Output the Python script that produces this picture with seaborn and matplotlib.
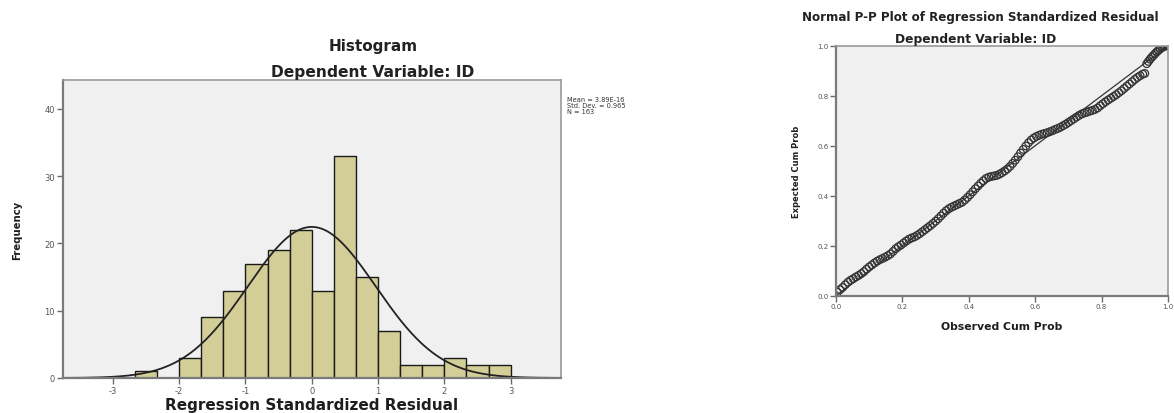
import numpy as np
import pandas as pd
import matplotlib
matplotlib.use("Agg")
import matplotlib.pyplot as plt
import seaborn as sns

# ---------------- data ----------------
# Histogram of regression standardized residuals (bin width 1/3)
bin_start = -8 / 3
bin_width = 1 / 3
counts = [1, 0, 3, 9, 13, 17, 19, 22, 13, 33, 15, 7, 2, 2, 3, 2, 2]
resid_mean = 3.89e-16
resid_sd = 0.965
n_obs = 163
hist_xticks = [-3, -2, -1, 0, 1, 2, 3]
hist_yticks = [0, 10, 20, 30, 40]

# Normal P-P plot points
pp_observed = [
    0.004, 0.012, 0.020, 0.028, 0.036, 0.044, 0.052, 0.060, 0.068, 0.076,
    0.084, 0.092, 0.100, 0.108, 0.116, 0.124, 0.132, 0.140, 0.148, 0.156,
    0.164, 0.172, 0.180, 0.188, 0.196, 0.204, 0.212, 0.220, 0.228, 0.236,
    0.244, 0.252, 0.260, 0.268, 0.276, 0.284, 0.292, 0.300, 0.308, 0.316,
    0.324, 0.332, 0.340, 0.348, 0.356, 0.364, 0.372, 0.380, 0.388, 0.396,
    0.404, 0.412, 0.420, 0.428, 0.436, 0.444, 0.452, 0.460, 0.468, 0.476,
    0.484, 0.492, 0.500, 0.508, 0.516, 0.524, 0.532, 0.540, 0.548, 0.556,
    0.564, 0.572, 0.580, 0.588, 0.596, 0.604, 0.612, 0.620, 0.628, 0.636,
    0.644, 0.652, 0.660, 0.668, 0.676, 0.684, 0.692, 0.700, 0.708, 0.716,
    0.724, 0.732, 0.740, 0.748, 0.756, 0.764, 0.772, 0.780, 0.788, 0.796,
    0.804, 0.812, 0.820, 0.828, 0.836, 0.844, 0.852, 0.860, 0.868, 0.876,
    0.884, 0.892, 0.900, 0.908, 0.916, 0.924, 0.930,
    0.936, 0.941, 0.946, 0.951, 0.956, 0.961, 0.966, 0.971, 0.976, 0.981,
    0.986, 0.991, 0.996, 1.000]
pp_expected = [
    0.014, 0.024, 0.033, 0.044, 0.054, 0.062, 0.068, 0.075, 0.081, 0.088,
    0.096, 0.106, 0.115, 0.123, 0.131, 0.138, 0.144, 0.149, 0.154, 0.160,
    0.167, 0.177, 0.188, 0.196, 0.203, 0.211, 0.219, 0.226, 0.231, 0.235,
    0.241, 0.248, 0.256, 0.264, 0.272, 0.280, 0.289, 0.298, 0.308, 0.319,
    0.330, 0.340, 0.348, 0.354, 0.359, 0.364, 0.369, 0.374, 0.383, 0.393,
    0.404, 0.416, 0.428, 0.439, 0.450, 0.460, 0.469, 0.474, 0.477, 0.479,
    0.481, 0.486, 0.492, 0.499, 0.507, 0.517, 0.529, 0.542, 0.556, 0.571,
    0.585, 0.599, 0.612, 0.623, 0.631, 0.637, 0.642, 0.646, 0.649, 0.652,
    0.656, 0.660, 0.665, 0.669, 0.674, 0.680, 0.686, 0.693, 0.700, 0.707,
    0.714, 0.721, 0.727, 0.731, 0.734, 0.738, 0.741, 0.745, 0.751, 0.760,
    0.768, 0.776, 0.783, 0.790, 0.797, 0.804, 0.812, 0.820, 0.829, 0.838,
    0.847, 0.856, 0.865, 0.873, 0.880, 0.886, 0.889,
    0.928, 0.937, 0.946, 0.954, 0.961, 0.968, 0.975, 0.981, 0.987, 0.992,
    0.996, 0.998, 1.000, 1.000]
diag_line = [0.0, 1.0]
pp_ticks = [0.0, 0.2, 0.4, 0.6, 0.8, 1.0]

# ---------------- style ----------------
sns.set_style("white")
plt.rcParams["font.family"] = ["DejaVu Sans"]
plt.rcParams["axes.unicode_minus"] = False

W, H = 1174, 414
fig = plt.figure(figsize=(W / 100, H / 100), dpi=100)
fig.patch.set_facecolor("white")

bg = "#F0F0F0"
bar_color = "#D3CE97"


def style_axes(ax):
    ax.set_facecolor(bg)
    for side in ["left", "bottom"]:
        ax.spines[side].set_color("#7a7a7a")
        ax.spines[side].set_linewidth(1.6)
    for side in ["top", "right"]:
        ax.spines[side].set_color("#9a9a9a")
        ax.spines[side].set_linewidth(1.2)
        ax.spines[side].set_visible(True)
    ax.tick_params(direction="out", length=4, width=1, color="#6a6a6a",
                   labelsize=5.5, labelcolor="#555555", pad=1.5,
                   bottom=True, left=True)


# ---------------- histogram ----------------
ax1 = fig.add_axes([62.5 / W, 1 - 379 / H, 498.5 / W, 298 / H])
edges = [bin_start + bin_width * i for i in range(len(counts) + 1)]
centers = [e + bin_width / 2 for e in edges[:-1]]
hist_df = pd.DataFrame({"residual": centers, "count": counts})
sns.histplot(data=hist_df, x="residual", weights="count", bins=edges, color=bar_color,
             edgecolor="#1a1a1a", linewidth=1.0, alpha=1.0, ax=ax1)

xlim = (-3.76, 3.76)
xs = np.linspace(xlim[0], xlim[1], 400)
ys = n_obs * bin_width * np.exp(-0.5 * ((xs - resid_mean) / resid_sd) ** 2) / (resid_sd * np.sqrt(2 * np.pi))
sns.lineplot(x=xs, y=ys, color="#222222", linewidth=1.3, ax=ax1)

ax1.set_xlim(*xlim)
ax1.set_ylim(0, 44.3)
ax1.set_xticks(hist_xticks)
ax1.set_yticks(hist_yticks)
style_axes(ax1)
ax1.tick_params(labelsize=6)
ax1.set_xlabel("Regression Standardized Residual", fontsize=11, fontweight="bold",
               va="center", color="#1e1e1e")
ax1.xaxis.set_label_coords(0.5, (379 - 406) / 298)
ax1.set_ylabel("Frequency", fontsize=7.3, fontweight="bold", color="#1e1e1e")
ax1.yaxis.set_label_coords(-0.08, 0.5)

fig.text(373 / W, 1 - 46 / H, "Histogram", ha="center", va="center",
         fontsize=11, fontweight="bold", color="#222222")
fig.text(373 / W, 1 - 72 / H, "Dependent Variable: ID", ha="center", va="center",
         fontsize=11.2, fontweight="bold", color="#222222")
fig.text(567 / W, 1 - 97 / H,
         f"Mean = {resid_mean:.2E}\nStd. Dev. = {resid_sd:.3f}\nN = {n_obs}",
         ha="left", va="top", fontsize=4.8, linespacing=1.0, color="#333333")

# ---------------- P-P plot ----------------
ax2 = fig.add_axes([836 / W, 1 - 296.7 / H, 332 / W, 250 / H])
sns.lineplot(x=diag_line, y=diag_line, color="#333333", linewidth=0.9, ax=ax2)
sns.scatterplot(x=pp_observed, y=pp_expected, s=30, facecolor="none",
                edgecolor="#333333", linewidth=0.9, ax=ax2)
ax2.set_xlim(0, 1)
ax2.set_ylim(0, 1)
ax2.set_xticks(pp_ticks)
ax2.set_yticks(pp_ticks)
ax2.set_xticklabels([f"{t:.1f}" for t in pp_ticks])
ax2.set_yticklabels([f"{t:.1f}" for t in pp_ticks])
style_axes(ax2)
ax2.tick_params(labelsize=5)
ax2.set_xlabel("Observed Cum Prob", fontsize=7.8, fontweight="bold", color="#1e1e1e")
ax2.xaxis.set_label_coords(0.5, -0.1)
ax2.set_ylabel("Expected Cum Prob", fontsize=6, fontweight="bold", color="#1e1e1e")
ax2.yaxis.set_label_coords(-0.105, 0.5)

fig.text(980 / W, 1 - 18 / H, "Normal P-P Plot of Regression Standardized Residual",
         ha="center", va="center", fontsize=8.6, fontweight="bold", color="#222222")
fig.text(976 / W, 1 - 39 / H, "Dependent Variable: ID", ha="center", va="center",
         fontsize=8.8, fontweight="bold", color="#222222")

fig.savefig("out.png", dpi=100)
